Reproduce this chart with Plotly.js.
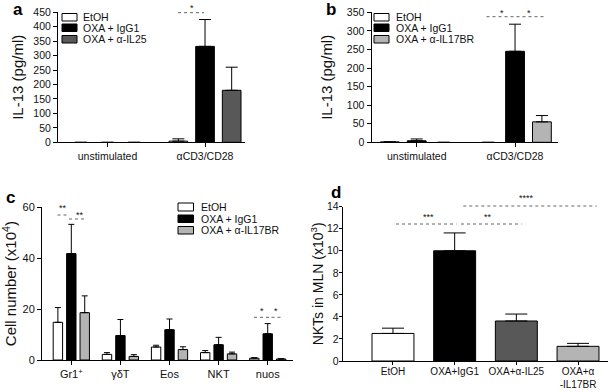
<!DOCTYPE html>
<html><head><meta charset="utf-8">
<script src="https://cdn.plot.ly/plotly-3.0.1.min.js"></script>
<style>html,body{margin:0;padding:0;background:#fff}#chart{width:610px;height:392px}</style>
</head><body><div id="chart"></div>
<script>
// ---------- data ----------
const legendLabelsA = ['EtOH', 'OXA + IgG1', 'OXA + α-IL25'];
const legendLabelsB = ['EtOH', 'OXA + IgG1', 'OXA + α-IL17BR'];

const aCats = ['unstimulated', 'αCD3/CD28'];
const aEtOH = [0, 4],   aEtOHErr = [null, 8];
const aIgG1 = [0, 332], aIgG1Err = [null, 93];
const aIL25 = [0, 180], aIL25Err = [null, 80];

const bCats = ['unstimulated', 'αCD3/CD28'];
const bEtOH = [1, 0],     bEtOHErr = [null, null];
const bIgG1 = [4, 245],   bIgG1Err = [5, 73];
const bIL17BR = [0, 55],  bIL17BRErr = [null, 17];

const cCats = ['Gr1<sup>+</sup>', 'γδT', 'Eos', 'NKT', 'nuos'];
const cEtOH = [14.8, 2.2, 5.1, 2.9, 0.7],    cEtOHErr = [5.8, 0.7, 0.7, 0.8, 0.2];
const cIgG1 = [41.8, 9.6, 11.9, 6.0, 10.3],  cIgG1Err = [11.5, 6.3, 4.2, 2.9, 4.0];
const cIL17BR = [18.6, 1.4, 4.1, 2.4, 0.4],  cIL17BRErr = [6.6, 0.7, 1.1, 0.7, 0.1];

const dCats = ['EtOH', 'OXA+IgG1', 'OXA+α-IL25', 'OXA+α<br>-IL17BR'];
const dVals = [2.5, 10.0, 3.63, 1.33];
const dErr  = [0.48, 1.62, 0.63, 0.27];

// ---------- style ----------
const W = 610, H = 392;
const FONT = 'Liberation Sans, Arial, Helvetica, sans-serif';
const C_WHITE = '#ffffff', C_BLACK = '#000000', C_DARK = '#585858', C_LIGHT = '#b4b4b4';
const dColors = [C_WHITE, C_BLACK, C_DARK, C_LIGHT];
const px = x => x / W;
const py = y => 1 - y / H;

function bar(cats, vals, err, color, xa, ya, name, capw, width) {
  const t = {
    type: 'bar', x: cats, y: vals, name: name, xaxis: xa, yaxis: ya,
    marker: {color: color, line: {color: '#000', width: vals.map(v => (v > 0 ? 1 : 0))}},
    error_y: {type: 'data', symmetric: false, array: err, arrayminus: [],
              color: '#000', thickness: 1, width: capw},
    showlegend: false, hoverinfo: 'skip'
  };
  if (width) t.width = width;
  return t;
}

const traces = [
  bar(aCats, aEtOH, aEtOHErr, C_WHITE, 'x', 'y', legendLabelsA[0], 6),
  bar(aCats, aIgG1, aIgG1Err, C_BLACK, 'x', 'y', legendLabelsA[1], 6),
  bar(aCats, aIL25, aIL25Err, C_DARK, 'x', 'y', legendLabelsA[2], 6),
  bar(bCats, bEtOH, bEtOHErr, C_WHITE, 'x2', 'y2', legendLabelsB[0], 6),
  bar(bCats, bIgG1, bIgG1Err, C_BLACK, 'x2', 'y2', legendLabelsB[1], 6),
  bar(bCats, bIL17BR, bIL17BRErr, C_LIGHT, 'x2', 'y2', legendLabelsB[2], 6),
  bar(cCats, cEtOH, cEtOHErr, C_WHITE, 'x3', 'y3', legendLabelsB[0], 3),
  bar(cCats, cIgG1, cIgG1Err, C_BLACK, 'x3', 'y3', legendLabelsB[1], 3),
  bar(cCats, cIL17BR, cIL17BRErr, C_LIGHT, 'x3', 'y3', legendLabelsB[2], 3),
  bar(dCats, dVals, dErr, dColors, 'x4', 'y4', 'NKTs', 11, 0.68)
];

function axis(extra) {
  return Object.assign({
    showline: true, linecolor: '#000', linewidth: 1, mirror: false,
    ticks: 'outside', ticklen: 4, tickcolor: '#000', tickwidth: 1,
    showgrid: false, zeroline: false, fixedrange: true,
    tickfont: {family: FONT, size: 10.5, color: '#111'}
  }, extra);
}
const titleFont = {family: FONT, size: 15, color: '#111'};

const shapes = [], annotations = [];
function legend(x0, x1, tx, rows, labels, colors) {
  rows.forEach((r, i) => {
    shapes.push({type: 'rect', xref: 'paper', yref: 'paper',
      x0: px(x0), x1: px(x1), y0: py(r[1]), y1: py(r[0]),
      fillcolor: colors[i], line: {color: '#000', width: 1}});
    annotations.push({xref: 'paper', yref: 'paper', x: px(tx), y: py((r[0] + r[1]) / 2),
      xanchor: 'left', yanchor: 'middle', showarrow: false, text: labels[i],
      font: {family: FONT, size: 10.5, color: '#111'}});
  });
}
legend(62, 77, 81, [[13.5, 21], [24, 31.5], [35.5, 43]], legendLabelsA, [C_WHITE, C_BLACK, C_DARK]);
legend(374, 389, 394, [[13.5, 21], [24, 31.5], [35.5, 43]], legendLabelsB, [C_WHITE, C_BLACK, C_LIGHT]);
legend(178, 193.5, 199, [[203, 211], [215, 222.5], [226.5, 234]], legendLabelsB, [C_WHITE, C_BLACK, C_LIGHT]);

function sig(x0, x1, y, star, sx, sy) {
  shapes.push({type: 'line', xref: 'paper', yref: 'paper',
    x0: px(x0), x1: px(x1), y0: py(y), y1: py(y),
    line: {color: '#666', width: 1, dash: 'dot'}});
  annotations.push({xref: 'paper', yref: 'paper', x: px(sx), y: py(sy),
    xanchor: 'center', yanchor: 'middle', showarrow: false, text: star,
    font: {family: FONT, size: 9, color: '#111'}});
}
sig(178, 204, 12.7, '*', 191.5, 8);
sig(486.5, 513.5, 16.7, '*', 501.5, 13);
sig(516.5, 543.5, 16.7, '*', 528.5, 13);
sig(57.5, 67.5, 215, '**', 62.5, 208);
sig(69, 86, 219, '**', 79.7, 214.5);
sig(254, 270.5, 317.3, '*', 262.3, 311);
sig(271.5, 282.5, 317.3, '*', 275.7, 311);
sig(396, 456.5, 224, '***', 428.3, 217);
sig(461, 521.5, 224, '**', 488.3, 217);
sig(463.3, 596.7, 206, '****', 526.7, 198);

function letter(t, x, y) {
  annotations.push({xref: 'paper', yref: 'paper', x: px(x), y: py(y),
    xanchor: 'center', yanchor: 'middle', showarrow: false, text: '<b>' + t + '</b>',
    font: {family: FONT, size: 17, color: '#000'}});
}
letter('a', 18, 9);
letter('b', 331, 9);
letter('c', 10, 198);
letter('d', 336, 192);

const layout = {
  width: W, height: H, margin: {l: 0, r: 0, t: 0, b: 0},
  paper_bgcolor: '#fff', plot_bgcolor: 'rgba(0,0,0,0)',
  barmode: 'group', bargap: 0.18, bargroupgap: 0.3,
  showlegend: false,
  xaxis:  axis({domain: [px(58), px(245)], anchor: 'y', range: [-0.508, 1.41], type: 'category'}),
  yaxis:  axis({domain: [py(142.3), py(12.3)], anchor: 'x', range: [0, 450], dtick: 50,
                title: {text: 'IL-13 (pg/ml)', font: titleFont, standoff: 6}}),
  xaxis2: axis({domain: [px(371.5), px(558)], anchor: 'y2', range: [-0.46, 1.437], type: 'category'}),
  yaxis2: axis({domain: [py(142.3), py(12.3)], anchor: 'x2', range: [0, 350], dtick: 50,
                title: {text: 'IL-13 (pg/ml)', font: titleFont, standoff: 10}}),
  xaxis3: axis({domain: [px(42), px(293)], anchor: 'y3', range: [-0.597, 4.515], type: 'category',
                tickfont: {family: FONT, size: 11, color: '#111'}}),
  yaxis3: axis({domain: [py(360), py(207.3)], anchor: 'x3', range: [0, 60], dtick: 20,
                tickfont: {family: FONT, size: 11, color: '#111'},
                title: {text: 'Cell number (x10<sup>4</sup>)', font: titleFont, standoff: 6}}),
  xaxis4: axis({domain: [px(342.7), px(608)], anchor: 'y4', range: [-0.815, 3.486], type: 'category',
                ticklen: 3, ticklabelstandoff: -2,
                tickfont: {family: FONT, size: 10, color: '#111'}}),
  yaxis4: axis({domain: [py(361), py(206.7)], anchor: 'x4', range: [0, 14], dtick: 2, ticklen: 3,
                ticklabelstandoff: -2,
                tickfont: {family: FONT, size: 10.5, color: '#111'},
                title: {text: 'NKTs in MLN (x10<sup>3</sup>)', font: Object.assign({}, titleFont, {size: 14}), standoff: 0}}),
  shapes: shapes, annotations: annotations
};

Plotly.newPlot('chart', traces, layout, {staticPlot: true, displayModeBar: false});
</script>
</body></html>
